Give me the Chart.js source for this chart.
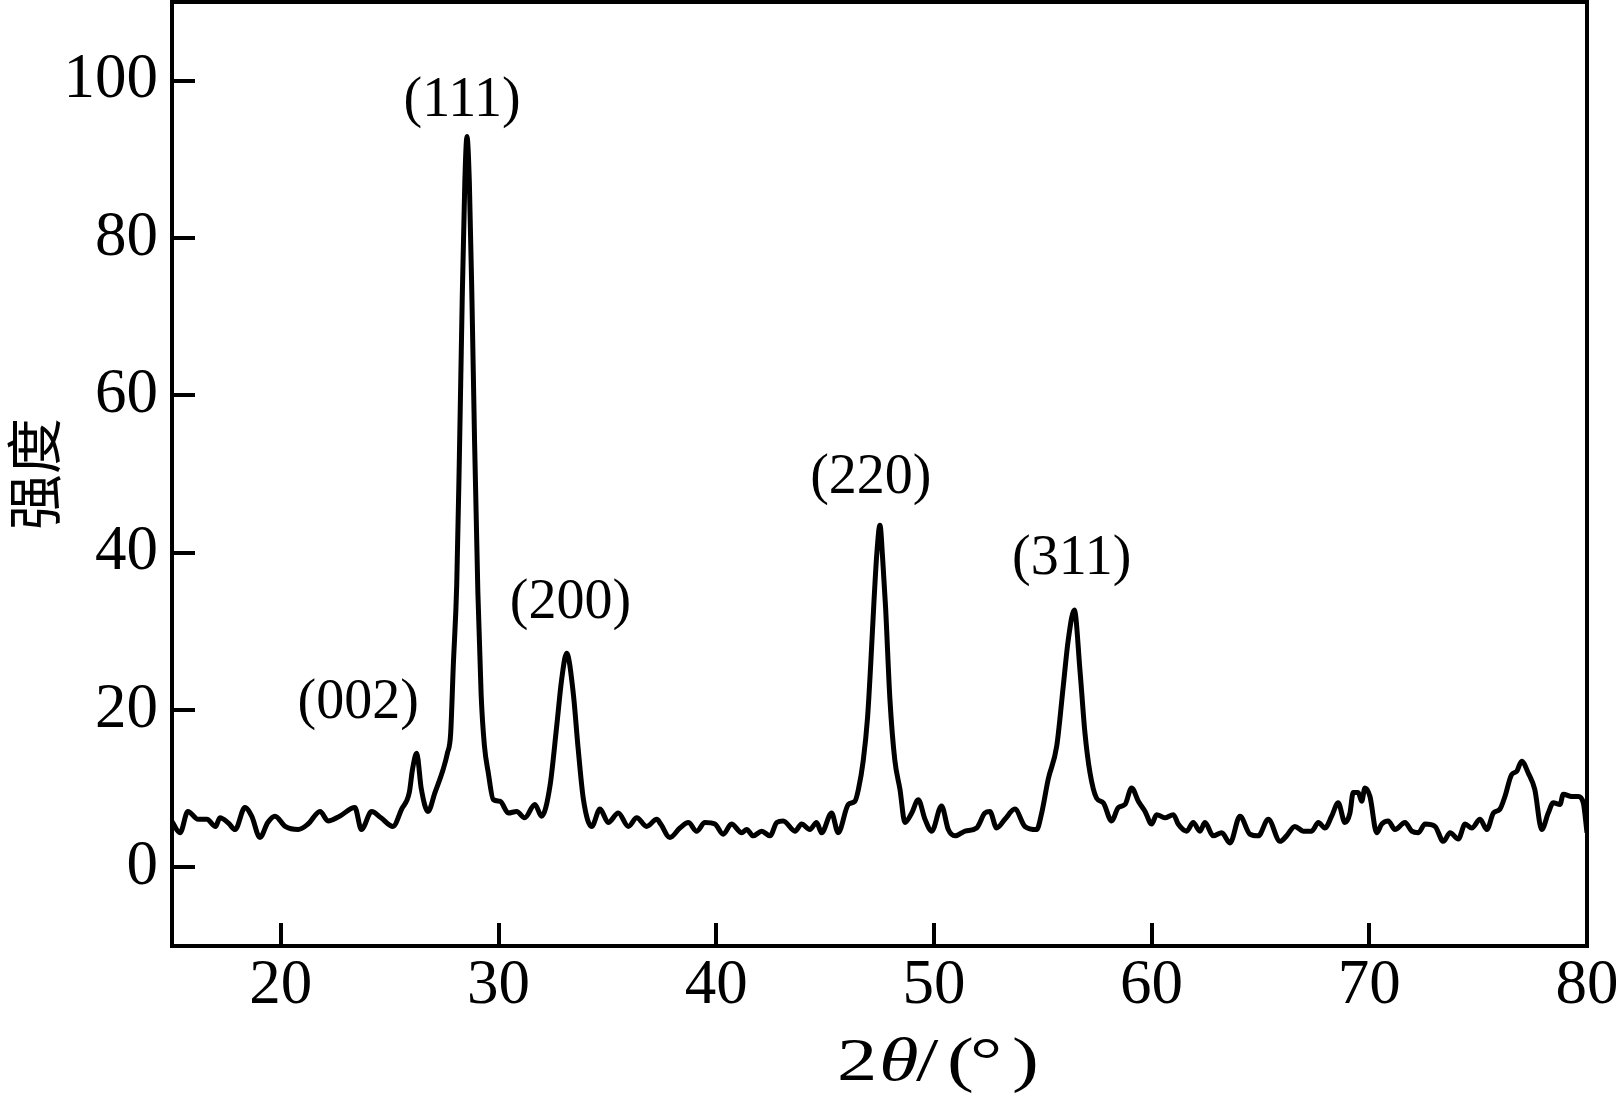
<!DOCTYPE html>
<html>
<head>
<meta charset="utf-8">
<title>XRD</title>
<script src="https://cdn.jsdelivr.net/npm/chart.js@4.4.1/dist/chart.umd.min.js"></script>
<style>
  html, body { margin: 0; padding: 0; background: #fff; }
  #wrap { width: 1616px; height: 1101px; }
</style>
</head>
<body>
<div id="wrap"><canvas id="chart" width="1616" height="1101"></canvas></div>
<script>
// 2θ (degrees) and intensity
const twoTheta = [
  15.0, 15.37, 15.73, 16.2, 16.6, 17.0, 17.2, 17.6, 17.9, 18.35, 18.66, 19.04, 19.4, 19.73,
  20.2, 20.8, 21.25, 21.8, 22.17, 22.7, 23.4, 23.7, 24.17, 24.6, 25.15, 25.55, 25.9, 26.05,
  26.24, 26.45, 26.76, 27.08, 27.45, 27.65, 27.8, 27.92, 28.08, 28.2, 28.33, 28.45, 28.55,
  28.66, 28.78, 28.9, 29.05, 29.2, 29.35, 29.53, 29.76, 30.07, 30.45, 30.83, 31.2, 31.67,
  31.98, 32.36, 32.67, 32.9, 33.13, 33.43, 33.66, 33.9, 34.28, 34.66, 35.04, 35.5, 35.96,
  36.35, 36.8, 37.27, 37.45, 37.87, 38.33, 38.72, 39.1, 39.48, 39.94, 40.32, 40.7, 41.17,
  41.4, 41.7, 42.09, 42.47, 42.78, 43.08, 43.62, 43.92, 44.3, 44.61, 44.84, 45.3, 45.6,
  46.07, 46.37, 46.53, 46.75, 46.95, 47.1, 47.25, 47.38, 47.52, 47.65, 47.78, 47.98, 48.2,
  48.44, 48.67, 48.98, 49.28, 49.59, 49.9, 50.35, 50.66, 50.97, 51.43, 51.96, 52.34, 52.57,
  52.88, 53.26, 53.72, 54.18, 54.72, 54.95, 55.25, 55.64, 55.94, 56.17, 56.45, 56.71, 56.94,
  57.17, 57.47, 57.78, 58.16, 58.47, 58.78, 59.08, 59.39, 59.7, 60.0, 60.23, 60.61, 61.0,
  61.22, 61.61, 61.91, 62.22, 62.45, 62.83, 63.22, 63.6, 64.06, 64.52, 64.9, 65.36, 65.9,
  66.2, 66.58, 66.97, 67.35, 67.66, 67.96, 68.27, 68.57, 68.88, 69.11, 69.26, 69.49, 69.65,
  69.8, 70.03, 70.34, 70.57, 70.87, 71.18, 71.64, 71.95, 72.25, 72.56, 73.02, 73.4, 73.71,
  74.09, 74.4, 74.71, 75.09, 75.4, 75.7, 76.0, 76.23, 76.54, 76.77, 77.0, 77.3, 77.6, 77.92,
  78.22, 78.45, 78.76, 78.91, 79.3, 79.6, 79.83, 80.0
]
const intensity = [
  5.8, 4.4, 7.1, 6.1, 6.1, 5.2, 6.3, 5.6, 4.8, 7.6, 6.5, 3.8, 5.7, 6.5,
  5.2, 4.8, 5.5, 7.1, 5.9, 6.5, 7.6, 4.8, 7.1, 6.3, 5.2, 7.4, 9.5, 12.5,
  14.5, 10.0, 7.1, 9.5, 12.4, 14.5, 17.0, 25.5, 36.0, 52.0, 72.0, 87.0, 92.9,
  87.0, 72.0, 54.0, 35.0, 22.0, 15.5, 12.0, 8.6, 8.4, 6.9, 7.1, 6.3, 8.0,
  6.5, 10.3, 17.9, 23.9, 27.2, 22.2, 15.0, 8.6, 5.2, 7.4, 5.7, 6.9, 5.2,
  6.3, 5.2, 6.1, 5.5, 3.8, 5.0, 5.7, 4.6, 5.7, 5.5, 4.2, 5.5, 4.4,
  4.8, 4.0, 4.6, 4.0, 5.7, 5.9, 4.6, 5.5, 4.8, 5.7, 4.4, 6.9, 4.4,
  8.0, 8.4, 9.9, 13.5, 19.0, 26.0, 34.0, 40.0, 43.5, 39.0, 33.0, 21.3, 13.7,
  9.9, 5.7, 6.9, 8.6, 6.1, 4.6, 7.8, 4.8, 4.0, 4.6, 5.0, 6.9, 7.1,
  5.0, 6.1, 7.4, 5.2, 4.8, 6.9, 11.2, 15.4, 23.0, 28.9, 32.7, 25.0, 17.0,
  12.0, 8.8, 8.2, 5.9, 7.6, 8.0, 10.1, 8.4, 7.1, 5.5, 6.7, 6.3, 6.7,
  5.5, 4.6, 5.7, 4.6, 5.7, 4.0, 4.4, 3.1, 6.5, 4.2, 4.0, 6.1, 3.3,
  4.0, 5.2, 4.6, 4.6, 5.7, 5.0, 6.5, 8.2, 5.7, 6.9, 9.5, 9.5, 8.4,
  10.1, 9.0, 4.4, 5.5, 5.9, 4.8, 5.7, 4.6, 4.4, 5.5, 5.2, 3.3, 4.4,
  3.6, 5.5, 5.0, 6.1, 4.8, 6.9, 7.4, 9.0, 11.8, 12.2, 13.5, 12.0, 9.9, 4.8,
  6.9, 8.2, 8.0, 9.3, 9.0, 9.0, 8.2, 4.4
]

const xTicks = [20, 30, 40, 50, 60, 70, 80]
const yTicks = [0, 20, 40, 60, 80, 100]

// peak names and where their labels sit (data units)
const peakLabels = ["(002)", "(111)", "(200)", "(220)", "(311)"]
const peakLabelX = [23.55, 28.33, 33.3, 47.1, 56.33]
const peakLabelY = [20.8, 97.4, 33.6, 49.5, 39.2]

const serif = '"Liberation Serif", "Times New Roman", serif'

// frame, inward ticks, peak labels and the x title
const decorations = {
  id: "decorations",
  afterDraw(chart) {
    const { ctx, chartArea: a, scales } = chart
    const x = scales.x
    const y = scales.y
    ctx.save()
    ctx.strokeStyle = "#000"
    ctx.lineWidth = 4
    ctx.lineCap = "butt"
    ctx.strokeRect(a.left, a.top, a.right - a.left, a.bottom - a.top)

    const tickLen = 23
    ctx.beginPath()
    xTicks.forEach((v) => {
      const px = Math.round(x.getPixelForValue(v))
      ctx.moveTo(px, a.bottom)
      ctx.lineTo(px, a.bottom - tickLen)
    })
    yTicks.forEach((v) => {
      const py = Math.round(y.getPixelForValue(v))
      ctx.moveTo(a.left, py)
      ctx.lineTo(a.left + tickLen, py)
    })
    ctx.stroke()

    ctx.fillStyle = "#000"
    ctx.font = "56px " + serif
    ctx.textAlign = "center"
    ctx.textBaseline = "middle"
    peakLabels.forEach((t, i) => {
      ctx.fillText(t, x.getPixelForValue(peakLabelX[i]), y.getPixelForValue(peakLabelY[i]))
    })

    // 2θ/(°), slightly stretched like the original
    const parts = [
      ["2", false, 837],
      ["θ", true, 879],
      ["/", false, 916],
      ["(", false, 947],
      ["°", false, 970],
      [")", false, 1012],
    ]
    ctx.textAlign = "left"
    ctx.textBaseline = "alphabetic"
    parts.forEach(([t, italic, px]) => {
      ctx.save()
      ctx.font = (italic ? "italic " : "") + "62px " + serif
      ctx.translate(px, 1080)
      ctx.scale(1.3, 1)
      ctx.fillText(t, 0, 0)
      ctx.restore()
    })
    ctx.restore()
  },
}

new Chart(document.getElementById("chart"), {
  type: "line",
  data: {
    datasets: [
      {
        data: twoTheta.map((v, i) => ({ x: v, y: intensity[i] })),
        borderColor: "#000",
        borderWidth: 5,
        pointRadius: 0,
        cubicInterpolationMode: "monotone",
        fill: false,
      },
    ],
  },
  options: {
    responsive: false,
    animation: false,
    devicePixelRatio: 1,
    layout: { padding: { top: 2, right: 29, left: 0, bottom: 0 } },
    plugins: { legend: { display: false }, tooltip: { enabled: false } },
    scales: {
      x: {
        type: "linear",
        min: 15,
        max: 80,
        grid: { display: false, drawTicks: false },
        border: { display: false },
        afterBuildTicks: (s) => { s.ticks = xTicks.map((v) => ({ value: v })) },
        afterFit: (s) => {
          s.height = 155
          s.paddingLeft = 0
          s.paddingRight = 0
        },
        ticks: {
          color: "#000",
          font: { family: serif, size: 63 },
          padding: 3,
          autoSkip: false,
          maxRotation: 0,
        },
      },
      y: {
        min: -10,
        max: 110,
        grid: { display: false, drawTicks: false },
        border: { display: false },
        afterBuildTicks: (s) => { s.ticks = yTicks.map((v) => ({ value: v })) },
        afterFit: (s) => {
          s.width = 172
          s.paddingTop = 0
          s.paddingBottom = 0
        },
        ticks: {
          color: "#000",
          font: { family: serif, size: 63 },
          padding: 14,
        },
        title: {
          display: true,
          text: "强度",
          color: "#000",
          font: { family: '"Noto Sans CJK SC"', size: 56, lineHeight: 1 },
          padding: { top: 6, bottom: 0 },
        },
      },
    },
  },
  plugins: [decorations],
})
</script>
</body>
</html>
